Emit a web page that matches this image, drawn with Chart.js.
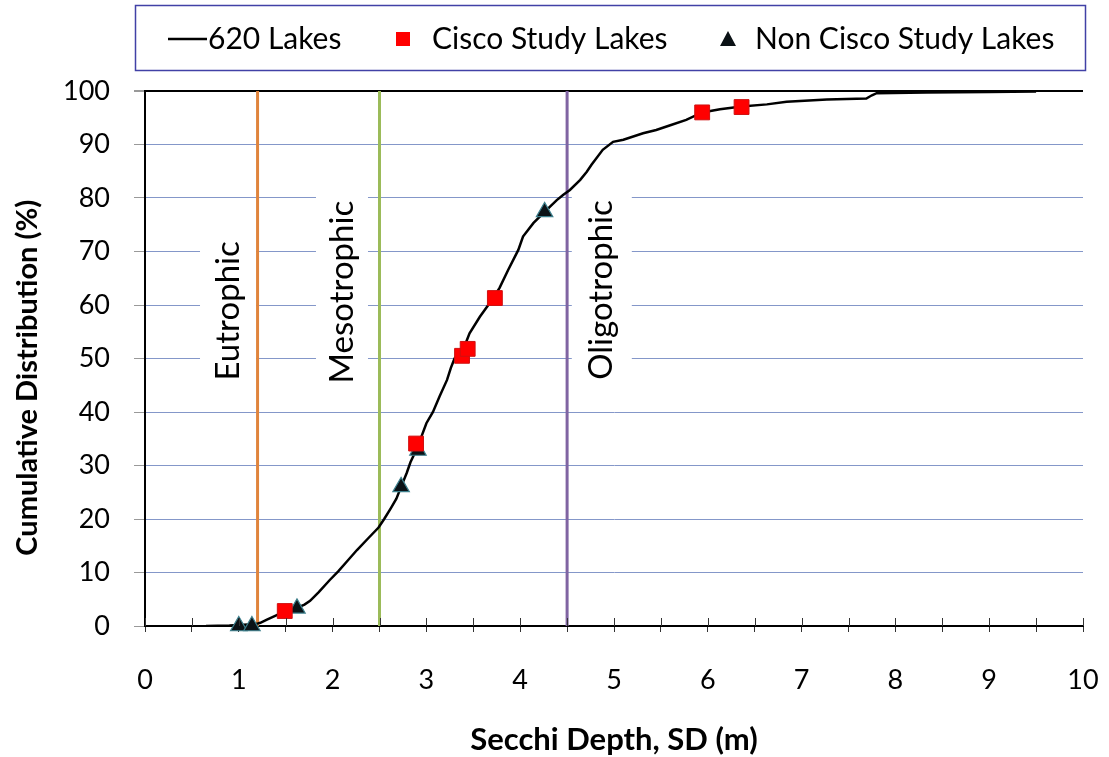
<!DOCTYPE html>
<html>
<head>
<meta charset="utf-8">
<script src="https://cdn.jsdelivr.net/npm/chart.js@4.4.1/dist/chart.umd.min.js"></script>
<style>
  html, body { margin: 0; padding: 0; background: #ffffff; }
  #wrap { width: 1109px; height: 757px; position: relative; }
</style>
</head>
<body>
<div id="wrap"><canvas id="c" width="1109" height="757"></canvas></div>
<script>
// ---- data ----
const sdCurve = [0.65, 0.9, 1.0, 1.1, 1.19, 1.23, 1.3, 1.44, 1.5, 1.62,
  1.7, 1.76, 1.85, 1.97, 2.06, 2.15, 2.26, 2.38, 2.49, 2.55,
  2.62, 2.68, 2.73, 2.79, 2.83, 2.9, 3.0, 3.07, 3.14, 3.22,
  3.26, 3.3, 3.4, 3.46, 3.57, 3.66, 3.72, 3.78, 3.87, 3.98,
  4.03, 4.14, 4.26, 4.39, 4.46, 4.53, 4.64, 4.71, 4.76, 4.88,
  4.99, 5.1, 5.31, 5.45, 5.6, 5.77, 5.94, 6.13, 6.36, 6.63,
  6.84, 7.27, 7.69, 7.75, 7.8, 8.33, 9.0, 9.5];
const cdCurve = [0, 0.1, 0.2, 0.3, 0.4, 0.6, 1.2, 2.3, 2.8, 3.4,
  4.0, 4.7, 6.3, 8.6, 10.2, 12.0, 14.2, 16.4, 18.4, 20.0,
  22.0, 23.8, 26.0, 28.6, 30.6, 33.2, 37.9, 40.0, 42.9, 46.0,
  48.2, 50.0, 52.0, 54.7, 57.8, 60.0, 61.5, 63.2, 66.5, 70.3,
  72.8, 75.3, 77.4, 79.6, 80.6, 81.5, 83.4, 84.9, 86.2, 89.0,
  90.5, 90.9, 92.1, 92.7, 93.6, 94.6, 96.0, 96.6, 97.1, 97.5,
  98.0, 98.4, 98.6, 99.2, 99.6, 99.7, 99.8, 99.9];

const ciscoSD = [1.49, 2.89, 3.38, 3.44, 3.73, 5.94, 6.36];
const ciscoCD = [2.8, 34.1, 50.5, 51.8, 61.3, 96.0, 97.0];

const nonCiscoSD = [1.0, 1.14, 1.62, 2.73, 2.91, 4.26];
const nonCiscoCD = [0, 0, 3.3, 26.0, 32.8, 77.4];

const trophicBoundaries = [1.2, 2.5, 4.5];
const trophicLabels = ['Eutrophic', 'Mesotrophic', 'Oligotrophic'];

const seriesNames = ['620 Lakes', 'Cisco Study Lakes', 'Non Cisco Study Lakes'];
const xTicks = [0, 1, 2, 3, 4, 5, 6, 7, 8, 9, 10];
const yTicks = [0, 10, 20, 30, 40, 50, 60, 70, 80, 90, 100];
const xTitle = 'Secchi Depth, SD (m)';
const yTitle = 'Cumulative Distribution (%)';

// ---- styles ----
const FONT = 'Lato, "Open Sans", "Liberation Sans", sans-serif';
const boundaryColors = ['#e0843c', '#9bbb59', '#8064a2'];
const labelAnchors = [ {x: 0.885, y: 58.9}, {x: 2.10, y: 62.4}, {x: 4.87, y: 62.8} ];
const labelBoxWidths = [56, 52, 60];
const yTitleAnchor = 46.4;

const toXY = (xs, ys) => xs.map((x, i) => ({x: x, y: ys[i]}));

const datasets = [];
datasets.push({
  label: seriesNames[1], data: toXY(ciscoSD, ciscoCD), type: 'line', showLine: false,
  pointStyle: 'rect', pointRadius: 10.5, pointBackgroundColor: '#ff0000',
  pointBorderColor: '#d01010', pointBorderWidth: 1, order: 0, clip: false
});
datasets.push({
  label: seriesNames[2], data: toXY(nonCiscoSD, nonCiscoCD), type: 'line', showLine: false,
  pointStyle: 'triangle', pointRadius: 9.5, pointBackgroundColor: '#0b1216',
  pointBorderColor: '#3d7f8c', pointBorderWidth: 1.2, order: 0, clip: false
});
datasets.push({
  label: seriesNames[0], data: toXY(sdCurve, cdCurve), type: 'line',
  borderColor: '#000000', borderWidth: 2.5, pointRadius: 0, tension: 0, fill: false, order: 1
});
trophicBoundaries.forEach((b, i) => {
  datasets.push({
    label: trophicLabels[i], data: [{x: b, y: 0}, {x: b, y: 100}], type: 'line',
    borderColor: boundaryColors[i], borderWidth: 3, pointRadius: 0, fill: false, order: 2
  });
});

const bgPlugin = {
  id: 'bg',
  beforeDraw(chart) {
    const ctx = chart.ctx;
    ctx.save();
    ctx.fillStyle = '#ffffff';
    ctx.fillRect(0, 0, chart.width, chart.height);
    ctx.restore();
  }
};

const zoneLabels = {
  id: 'zoneLabels',
  beforeDatasetsDraw(chart) {
    const ctx = chart.ctx;
    const xs = chart.scales.x, ys = chart.scales.y;
    ctx.save();
    ctx.font = '33px ' + FONT;
    trophicLabels.forEach((t, i) => {
      const cx = xs.getPixelForValue(labelAnchors[i].x);
      const cy = ys.getPixelForValue(labelAnchors[i].y);
      const w = ctx.measureText(t).width;
      ctx.fillStyle = '#ffffff';
      ctx.fillRect(cx - labelBoxWidths[i] / 2, cy - w / 2 - 8, labelBoxWidths[i], w + 16);
      ctx.save();
      ctx.translate(cx, cy);
      ctx.rotate(-Math.PI / 2);
      ctx.fillStyle = '#000000';
      ctx.textAlign = 'center';
      ctx.textBaseline = 'middle';
      ctx.fillText(t, 0, 0);
      ctx.restore();
    });
    ctx.restore();
  },
  afterDraw(chart) {
    const ctx = chart.ctx;
    const ys = chart.scales.y;
    ctx.save();
    ctx.translate(28, ys.getPixelForValue(yTitleAnchor));
    ctx.rotate(-Math.PI / 2);
    ctx.font = 'bold 29px ' + FONT;
    ctx.fillStyle = '#000';
    ctx.textAlign = 'center';
    ctx.textBaseline = 'middle';
    ctx.fillText(yTitle, 0, 0);
    ctx.restore();
  }
};

const legendBox = {
  id: 'legendBox',
  afterDraw(chart) {
    const ctx = chart.ctx;
    ctx.save();
    ctx.strokeStyle = '#4141a6';
    ctx.lineWidth = 1.5;
    ctx.strokeRect(135.5, 5.5, 950, 65);
    const cy = 39;
    ctx.strokeStyle = '#000';
    ctx.lineWidth = 2.5;
    ctx.beginPath(); ctx.moveTo(168, cy); ctx.lineTo(207, cy); ctx.stroke();
    ctx.fillStyle = '#ff0000';
    ctx.fillRect(396, cy - 7, 14, 14);
    ctx.fillStyle = '#0b1216';
    ctx.beginPath(); ctx.moveTo(728, cy - 8); ctx.lineTo(736, cy + 7); ctx.lineTo(720, cy + 7); ctx.closePath(); ctx.fill();
    ctx.fillStyle = '#000';
    ctx.font = '30px ' + FONT;
    ctx.textBaseline = 'middle';
    ctx.textAlign = 'left';
    ctx.fillText(seriesNames[0], 208, cy);
    ctx.fillText(seriesNames[1], 432, cy);
    ctx.fillText(seriesNames[2], 755, cy);
    ctx.restore();
  }
};

const xTickMarks = {
  id: 'xTickMarks',
  afterDraw(chart) {
    const ctx = chart.ctx;
    const xs = chart.scales.x;
    const y0 = chart.chartArea.bottom;
    ctx.save();
    ctx.strokeStyle = '#333';
    ctx.lineWidth = 1;
    xs.ticks.forEach(t => {
      const px = Math.round(xs.getPixelForValue(t.value)) + 0.5;
      ctx.beginPath(); ctx.moveTo(px, y0 - 8); ctx.lineTo(px, y0); ctx.stroke();
    });
    ctx.restore();
  }
};

new Chart(document.getElementById('c'), {
  type: 'line',
  data: { datasets: datasets },
  options: {
    responsive: false,
    animation: false,
    layout: { padding: { top: 91, right: 26, left: 0, bottom: 0 } },
    plugins: { legend: { display: false }, tooltip: { enabled: false } },
    scales: {
      x: {
        type: 'linear', min: 0, max: 10,
        afterFit(scale) { scale.height = 131; scale.paddingLeft = 0; scale.paddingRight = 0; },
        ticks: {
          stepSize: 0.5, autoSkip: false, maxRotation: 0,
          font: { family: FONT, size: 27 }, color: '#000', padding: 32,
          callback: v => (xTicks.includes(v) ? String(v) : '')
        },
        grid: { drawOnChartArea: false, tickLength: 6, color: '#333' },
        border: { display: true, color: '#000', width: 2 },
        title: { display: true, text: xTitle, color: '#000',
          font: { family: FONT, size: 31, weight: 'bold', lineHeight: 1.0 }, padding: { top: 0, bottom: 2 } }
      },
      y: {
        type: 'linear', min: 0, max: 100,
        afterFit(scale) { scale.width = 145; scale.paddingTop = 0; scale.paddingBottom = 0; },
        afterBuildTicks(scale) { scale.ticks = yTicks.map(v => ({value: v})); },
        ticks: { font: { family: FONT, size: 27 }, color: '#000', padding: 24 },
        grid: {
          color: c => (c.tick && c.tick.value === 100 ? '#000' : '#8497c9'),
          lineWidth: c => (c.tick && c.tick.value === 100 ? 2 : 1),
          tickColor: '#999', tickLength: 11
        },
        border: { display: true, color: '#000', width: 2 },
        title: { display: false }
      }
    }
  },
  plugins: [bgPlugin, zoneLabels, legendBox, xTickMarks]
});
</script>
</body>
</html>
